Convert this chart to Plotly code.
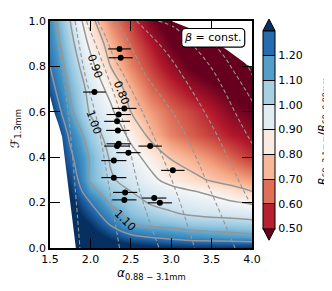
import plotly.graph_objects as go

# ---------------- data ----------------
alpha_grid = [1.5, 1.75, 2.0, 2.25, 2.5, 2.75, 3.0, 3.25, 3.5, 3.75, 4.0]
F_grid = [0.0, 0.05, 0.1, 0.15, 0.2, 0.25, 0.3, 0.4, 0.5, 0.6, 0.7, 0.8, 0.9, 1.0]
ratio_grid = [
    [1.40, 1.40, 1.38, 1.36, 1.34, 1.32, 1.31, 1.30, 1.30, 1.30, 1.30],
    [1.42, 1.40, 1.35, 1.28, 1.22, 1.19, 1.17, 1.15, 1.14, 1.13, 1.12],
    [1.42, 1.38, 1.30, 1.20, 1.11, 1.09, 1.08, 1.06, 1.05, 1.05, 1.04],
    [1.40, 1.35, 1.25, 1.14, 1.07, 1.04, 1.01, 0.99, 0.98, 0.97, 0.96],
    [1.38, 1.33, 1.20, 1.09, 1.04, 0.99, 0.97, 0.95, 0.93, 0.91, 0.89],
    [1.36, 1.30, 1.13, 1.05, 1.00, 0.96, 0.93, 0.905, 0.88, 0.84, 0.80],
    [1.36, 1.27, 1.09, 1.01, 0.97, 0.92, 0.87, 0.83, 0.79, 0.76, 0.73],
    [1.36, 1.22, 1.09, 0.99, 0.93, 0.87, 0.79, 0.75, 0.71, 0.66, 0.61],
    [1.35, 1.18, 1.05, 0.96, 0.88, 0.77, 0.70, 0.66, 0.62, 0.58, 0.55],
    [1.30, 1.12, 0.99, 0.92, 0.80, 0.73, 0.67, 0.63, 0.58, 0.53, 0.50],
    [1.24, 1.09, 0.97, 0.87, 0.76, 0.67, 0.61, 0.56, 0.52, 0.48, 0.46],
    [1.20, 1.06, 0.93, 0.80, 0.70, 0.62, 0.55, 0.49, 0.45, 0.42, 0.40],
    [1.17, 1.03, 0.88, 0.76, 0.66, 0.58, 0.50, 0.46, 0.43, 0.41, 0.39],
    [1.15, 1.00, 0.83, 0.70, 0.62, 0.52, 0.46, 0.43, 0.40, 0.38, 0.36],
]
contour_levels = [0.8, 0.9, 1.0, 1.1, 1.2]

# edges of the model domain (outside is blank)
left_edge_alpha = [1.5, 1.55, 1.6, 1.65, 1.69, 1.73, 1.77, 1.82]
left_edge_F = [0.67, 0.6, 0.55, 0.49, 0.38, 0.27, 0.14, 0.0]
top_edge_alpha = [2.95, 3.0, 3.21, 3.46, 3.7, 3.95, 4.0]
top_edge_F = [1.0, 1.0, 0.97, 0.927, 0.87, 0.805, 0.795]

# beta = const. curves (dashed)
beta_alpha = [
    [1.56, 1.66, 1.74, 1.81, 1.87],
    [1.81, 1.93, 2.09, 2.24, 2.36],
    [1.95, 2.2, 2.41, 2.61, 2.85],
    [2.09, 2.19, 2.29, 2.4, 2.71, 3.06, 3.29],
    [2.32, 2.44, 2.57, 2.67, 3.1, 3.49, 3.79],
    [2.57, 2.71, 2.92, 3.12, 3.49, 3.9, 4.05],
    [2.84, 3.05, 3.25, 3.42, 3.54, 3.86, 4.05],
    [3.13, 3.42, 3.62, 3.79, 4.05],
    [3.46, 3.79, 3.95, 4.05],
]
beta_F = [
    [1.0, 0.77, 0.55, 0.27, 0.0],
    [1.0, 0.77, 0.55, 0.25, 0.0],
    [1.0, 0.77, 0.55, 0.25, 0.0],
    [1.0, 0.93, 0.84, 0.77, 0.55, 0.25, 0.0],
    [1.0, 0.93, 0.84, 0.77, 0.55, 0.25, 0.0],
    [1.0, 0.95, 0.87, 0.77, 0.55, 0.25, 0.15],
    [1.0, 0.97, 0.90, 0.83, 0.77, 0.55, 0.43],
    [0.99, 0.93, 0.86, 0.77, 0.62],
    [0.93, 0.87, 0.80, 0.72],
]

# observed disks
obs_alpha = [2.36, 2.375, 2.05, 2.42, 2.35, 2.33, 2.34, 2.35, 2.33, 2.74, 2.47,
             2.29, 2.29, 2.43, 2.42, 3.02, 2.79, 2.86]
obs_F = [0.877, 0.838, 0.687, 0.615, 0.588, 0.558, 0.518, 0.459, 0.449, 0.449, 0.42,
         0.385, 0.31, 0.245, 0.212, 0.342, 0.22, 0.199]
obs_alpha_err = [0.14, 0.15, 0.14, 0.15, 0.15, 0.16, 0.145, 0.15, 0.16, 0.145, 0.15,
                 0.155, 0.155, 0.15, 0.15, 0.145, 0.15, 0.15]

contour_label_text = ["0.90", "0.80", "1.00", "1.10"]
contour_label_alpha = [2.053, 2.38, 2.04, 2.43]
contour_label_F = [0.798, 0.684, 0.552, 0.123]
contour_label_angle = [70, 68, 70, 45]

cbar_ticks = [0.5, 0.6, 0.7, 0.8, 0.9, 1.0, 1.1, 1.2]
cbar_min, cbar_max = 0.5, 1.3

# ---------------- styling ----------------
rdbu = ["rgb(103,0,31)", "rgb(178,24,43)", "rgb(214,96,77)", "rgb(244,165,130)",
        "rgb(253,219,199)", "rgb(247,247,247)", "rgb(209,229,240)", "rgb(146,197,222)",
        "rgb(67,147,195)", "rgb(33,102,172)", "rgb(5,48,97)"]
cont_scale = [[i / 10, c] for i, c in enumerate(rdbu)]
band_colors = ["rgb(182,32,47)", "rgb(222,111,88)", "rgb(247,183,153)", "rgb(250,235,226)",
               "rgb(226,237,243)", "rgb(167,208,227)", "rgb(84,158,201)", "rgb(36,107,175)"]
step_scale = []
nb = len(band_colors)
for i, c in enumerate(band_colors):
    step_scale.append([i / nb, c])
    step_scale.append([(i + 1) / nb, c])

FONT = "DejaVu Sans"
GRAY = "rgb(150,150,150)"
PW, PH = 202, 233  # plot area in px

fig = go.Figure()

fig.add_trace(go.Heatmap(x=alpha_grid, y=F_grid, z=ratio_grid, zmin=cbar_min, zmax=cbar_max,
                         colorscale=cont_scale, zsmooth="best", showscale=False,
                         hoverinfo="skip"))

fig.add_trace(go.Contour(x=alpha_grid, y=F_grid, z=ratio_grid,
                         contours=dict(start=contour_levels[0], end=contour_levels[-1],
                                       size=0.1, coloring="none"),
                         line=dict(color=GRAY, width=1.5, smoothing=1),
                         showscale=False, hoverinfo="skip"))

for xs, ys in zip(beta_alpha, beta_F):
    fig.add_trace(go.Scatter(x=xs, y=ys, mode="lines", line_shape="spline",
                             line=dict(color=GRAY, width=1.1, dash="4px,2.5px"),
                             showlegend=False, hoverinfo="skip"))

# blank (no-model) regions
fig.add_trace(go.Scatter(x=[1.3] + left_edge_alpha + [left_edge_alpha[-1], 1.3],
                         y=[left_edge_F[0]] + left_edge_F + [-0.1, -0.1],
                         mode="lines", fill="toself", fillcolor="white",
                         line=dict(width=0, color="white"), showlegend=False, hoverinfo="skip"))
fig.add_trace(go.Scatter(x=[top_edge_alpha[0]] + top_edge_alpha + [4.2, 4.2],
                         y=[1.1] + top_edge_F + [top_edge_F[-1], 1.1],
                         mode="lines", fill="toself", fillcolor="white",
                         line=dict(width=0, color="white"), showlegend=False, hoverinfo="skip"))

fig.add_trace(go.Scatter(x=obs_alpha, y=obs_F, mode="markers",
                         marker=dict(color="black", size=6),
                         error_x=dict(type="data", array=obs_alpha_err, color="black",
                                      thickness=1.1, width=0),
                         showlegend=False, hoverinfo="skip"))

# colorbar carrier (body 0.50 .. 1.30, extension triangles added as shapes)
bx0 = (263 - 50) / PW
ytop, ybot = (248 - 25) / PH, (248 - 228) / PH
fig.add_trace(go.Scatter(x=[None], y=[None], mode="markers",
                         marker=dict(color=[cbar_min], cmin=cbar_min, cmax=cbar_max,
                                     colorscale=step_scale, showscale=True,
                                     colorbar=dict(x=bx0, xanchor="left", xpad=0,
                                                   y=(ytop + ybot) / 2, yanchor="middle", ypad=0,
                                                   len=ytop - ybot, lenmode="fraction",
                                                   thickness=12,
                                                   outlinewidth=1, outlinecolor="black",
                                                   tickvals=cbar_ticks,
                                                   ticktext=[f"{v:.2f}" for v in cbar_ticks],
                                                   ticks="inside", ticklen=12, tickwidth=1,
                                                   tickcolor="black",
                                                   tickfont=dict(family=FONT, size=11, color="black"))),
                         showlegend=False, hoverinfo="skip"))

# colorbar extension triangles
bx1 = bx0 + 12 / PW
ext = 12 / PH
shapes = [
    dict(type="path", xref="paper", yref="paper",
         path=f"M {bx0} {ytop} L {bx1} {ytop} L {(bx0+bx1)/2} {ytop+ext} Z",
         fillcolor=rdbu[-1], line=dict(color="black", width=1)),
    dict(type="path", xref="paper", yref="paper",
         path=f"M {bx0} {ybot} L {bx1} {ybot} L {(bx0+bx1)/2} {ybot-ext} Z",
         fillcolor=rdbu[0], line=dict(color="black", width=1)),
]
# rounded box for label
x0, x1, y0, y1 = 3.13, 3.91, 0.885, 0.967
rx, ry = 4 / 80.8, 4 / 233
shapes.append(dict(type="path", xref="x", yref="y",
                   path=(f"M {x0+rx} {y0} L {x1-rx} {y0} Q {x1} {y0} {x1} {y0+ry} "
                         f"L {x1} {y1-ry} Q {x1} {y1} {x1-rx} {y1} L {x0+rx} {y1} "
                         f"Q {x0} {y1} {x0} {y1-ry} L {x0} {y0+ry} Q {x0} {y0} {x0+rx} {y0} Z"),
                   fillcolor="white", line=dict(color="black", width=1.2)))

annotations = [
    dict(x=(x0 + x1) / 2, y=(y0 + y1) / 2, xref="x", yref="y", showarrow=False,
         text="<i>β</i> = const.", font=dict(family=FONT, size=11, color="black")),
    dict(x=(151 - 50) / PW, y=-(275 - 248) / PH, xref="paper", yref="paper", showarrow=False,
         xanchor="center", yanchor="middle",
         text="<i>α</i><sub>0.88 − 3.1mm</sub>", font=dict(family=FONT, size=12, color="black")),
    dict(x=(16 - 50) / PW, y=(248 - 126) / PH, xref="paper", yref="paper", showarrow=False,
         xanchor="center", yanchor="middle", textangle=-90,
         text="ℱ<sub>1.3mm</sub>", font=dict(family=FONT, size=12, color="black")),
    dict(x=(323 - 50) / PW, y=(248 - 128) / PH, xref="paper", yref="paper", showarrow=False,
         xanchor="center", yanchor="middle", textangle=-90,
         text="<i>R</i><sub>68, 3.1mm</sub>/<i>R</i><sub>68, 0.88mm</sub>",
         font=dict(family=FONT, size=11, color="black")),
]
for t, a, f, ang in zip(contour_label_text, contour_label_alpha, contour_label_F, contour_label_angle):
    annotations.append(dict(x=a, y=f, xref="x", yref="y", showarrow=False, text=t,
                            textangle=ang, font=dict(family=FONT, size=11, color="black")))

axis_common = dict(showgrid=False, zeroline=False, showline=True, linecolor="black",
                   linewidth=1.5, mirror="ticks", ticks="inside", ticklen=10, tickwidth=1.3,
                   tickcolor="black", tickfont=dict(family=FONT, size=11, color="black"),
                   tickformat=".1f")
# the page body adds an 8px margin, so the figure is 8px smaller than the window
fig.update_layout(
    width=324, height=283,
    margin=dict(l=42, r=80, t=7, b=43),
    plot_bgcolor="white", paper_bgcolor="white",
    xaxis=dict(range=[1.5, 4.0], tickvals=[1.5, 2.0, 2.5, 3.0, 3.5, 4.0], **axis_common),
    yaxis=dict(range=[0, 1.0], tickvals=[0, 0.2, 0.4, 0.6, 0.8, 1.0], **axis_common),
    shapes=shapes, annotations=annotations, showlegend=False,
    font=dict(family=FONT),
)
fig.write_html("out.html")
